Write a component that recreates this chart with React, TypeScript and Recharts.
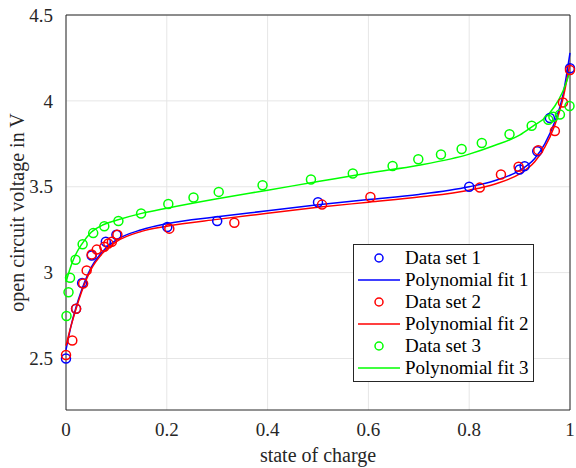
import { ComposedChart, Line, Scatter, XAxis, YAxis, CartesianGrid, ReferenceArea } from 'recharts'

// measured state of charge / voltage pairs
const SOC_1 = [0, 0.02, 0.032, 0.051, 0.079, 0.1, 0.201, 0.3, 0.5, 0.8, 0.9, 0.91, 0.935, 0.96, 1.0]
const OCV_1 = [2.5, 2.79, 2.94, 3.1, 3.18, 3.22, 3.266, 3.3, 3.41, 3.5, 3.6, 3.62, 3.707, 3.9, 4.19]

const SOC_2 = [0, 0.0125, 0.02, 0.034, 0.041, 0.051, 0.061, 0.076, 0.084, 0.091, 0.102, 0.205, 0.334, 0.508, 0.604, 0.821, 0.863, 0.898, 0.937, 0.97, 0.986, 1.0]
const OCV_2 = [2.52, 2.605, 2.79, 2.936, 3.013, 3.106, 3.134, 3.15, 3.17, 3.18, 3.22, 3.256, 3.29, 3.396, 3.44, 3.495, 3.571, 3.616, 3.713, 3.825, 3.99, 4.18]

const SOC_3 = [0.001, 0.005, 0.008, 0.019, 0.033, 0.054, 0.076, 0.104, 0.149, 0.203, 0.253, 0.303, 0.39, 0.486, 0.569, 0.648, 0.699, 0.744, 0.785, 0.825, 0.88, 0.924, 0.957, 0.967, 0.98, 0.999]
const OCV_3 = [2.747, 2.886, 2.97, 3.075, 3.165, 3.23, 3.27, 3.3, 3.344, 3.4, 3.437, 3.47, 3.509, 3.542, 3.577, 3.621, 3.66, 3.688, 3.72, 3.755, 3.806, 3.855, 3.89, 3.907, 3.92, 3.97]

const FIT_SOC = [0, 0.01, 0.02, 0.03, 0.05, 0.075, 0.1, 0.15, 0.2, 0.3, 0.4, 0.5, 0.6, 0.7, 0.8, 0.85, 0.9, 0.93, 0.95, 0.97, 0.985, 1.0]
const FIT_1 = [2.55, 2.69, 2.8, 2.89, 3.03, 3.13, 3.19, 3.25, 3.285, 3.325, 3.36, 3.395, 3.425, 3.455, 3.5, 3.535, 3.595, 3.665, 3.75, 3.88, 4.02, 4.28]
const FIT_2 = [2.575, 2.69, 2.79, 2.88, 3.02, 3.12, 3.18, 3.24, 3.27, 3.31, 3.345, 3.38, 3.41, 3.44, 3.48, 3.515, 3.575, 3.645, 3.73, 3.86, 4.0, 4.22]
const FIT_3 = [2.945, 3.04, 3.11, 3.16, 3.235, 3.28, 3.305, 3.345, 3.375, 3.43, 3.48, 3.53, 3.58, 3.625, 3.69, 3.74, 3.8, 3.86, 3.9, 3.97, 4.05, 4.17]

const X_TICKS = [0, 0.2, 0.4, 0.6, 0.8, 1]
const Y_TICKS = [2.5, 3, 3.5, 4, 4.5]

const LEGEND_ITEMS = [
  { label: 'Data set 1', color: '#0000ff', kind: 'marker' },
  { label: 'Polynomial fit 1', color: '#0000ff', kind: 'line' },
  { label: 'Data set 2', color: '#ff0000', kind: 'marker' },
  { label: 'Polynomial fit 2', color: '#ff0000', kind: 'line' },
  { label: 'Data set 3', color: '#00ff00', kind: 'marker' },
  { label: 'Polynomial fit 3', color: '#00ff00', kind: 'line' },
]

const FONT = '"Liberation Serif", "DejaVu Serif", serif'

const pairs = (xs: number[], ys: number[]) => xs.map((x, i) => ({ x, y: ys[i] }))

const ring = (color: string) => (props: any) => (
  <circle cx={props.cx} cy={props.cy} r={4.5} fill="none" stroke={color} strokeWidth={1.5} />
)

function LegendBox() {
  return (
    <div style={{ position: 'absolute', left: 353, top: 244, border: '1px solid #262626', background: '#fff', width: 179, padding: '2px 0', fontFamily: FONT, fontSize: 19, color: '#000' }}>
      {LEGEND_ITEMS.map((it) => (
        <div key={it.label} style={{ display: 'flex', alignItems: 'center', height: 22 }}>
          <svg width={46} height={22} style={{ marginLeft: 4, flexShrink: 0 }}>
            {it.kind === 'line'
              ? <line x1={0} y1={11} x2={42} y2={11} stroke={it.color} strokeWidth={1.5} />
              : <circle cx={21} cy={11} r={4} fill="none" stroke={it.color} strokeWidth={1.5} />}
          </svg>
          <span style={{ marginLeft: 1, lineHeight: '22px', whiteSpace: 'nowrap' }}>{it.label}</span>
        </div>
      ))}
    </div>
  )
}

export default function App() {
  const tickStyle = { fontFamily: FONT, fontSize: 19, fill: '#262626' }
  const labelStyle = { fontFamily: FONT, fontSize: 20, fill: '#262626' }
  return (
    <div style={{ position: 'relative', width: 576, height: 468, background: '#fff' }}>
      <style>{'body{margin:0}'}</style>
      <ComposedChart width={576} height={468} margin={{ top: 15, right: 6, bottom: 0, left: 0 }}>
        <CartesianGrid stroke="#e6e6e6" horizontalValues={Y_TICKS} verticalValues={X_TICKS} />
        <XAxis
          type="number" dataKey="x" domain={[0, 1]} ticks={X_TICKS} height={58}
          tick={tickStyle} tickLine={false} axisLine={false} tickMargin={7}
          label={{ value: 'state of charge', position: 'insideBottom', offset: 6, style: labelStyle }}
        />
        <YAxis
          type="number" dataKey="y" domain={[2.2, 4.5]} ticks={Y_TICKS} width={66}
          tick={tickStyle} tickLine={false} axisLine={false} tickMargin={7}
          label={{ value: 'open circuit voltage in V', angle: -90, position: 'center', dx: -16, style: labelStyle }}
        />
        <ReferenceArea x1={0} x2={1} y1={2.2} y2={4.5} fill="none" stroke="#262626" strokeWidth={1} ifOverflow="visible" />
        <Line data={pairs(FIT_SOC, FIT_1)} dataKey="y" type="monotone" stroke="#0000ff" strokeWidth={1.5} dot={false} isAnimationActive={false} />
        <Line data={pairs(FIT_SOC, FIT_2)} dataKey="y" type="monotone" stroke="#ff0000" strokeWidth={1.5} dot={false} isAnimationActive={false} />
        <Line data={pairs(FIT_SOC, FIT_3)} dataKey="y" type="monotone" stroke="#00ff00" strokeWidth={1.5} dot={false} isAnimationActive={false} />
        <Scatter data={pairs(SOC_1, OCV_1)} dataKey="y" shape={ring('#0000ff')} isAnimationActive={false} />
        <Scatter data={pairs(SOC_2, OCV_2)} dataKey="y" shape={ring('#ff0000')} isAnimationActive={false} />
        <Scatter data={pairs(SOC_3, OCV_3)} dataKey="y" shape={ring('#00ff00')} isAnimationActive={false} />
      </ComposedChart>
      <LegendBox />
    </div>
  )
}
